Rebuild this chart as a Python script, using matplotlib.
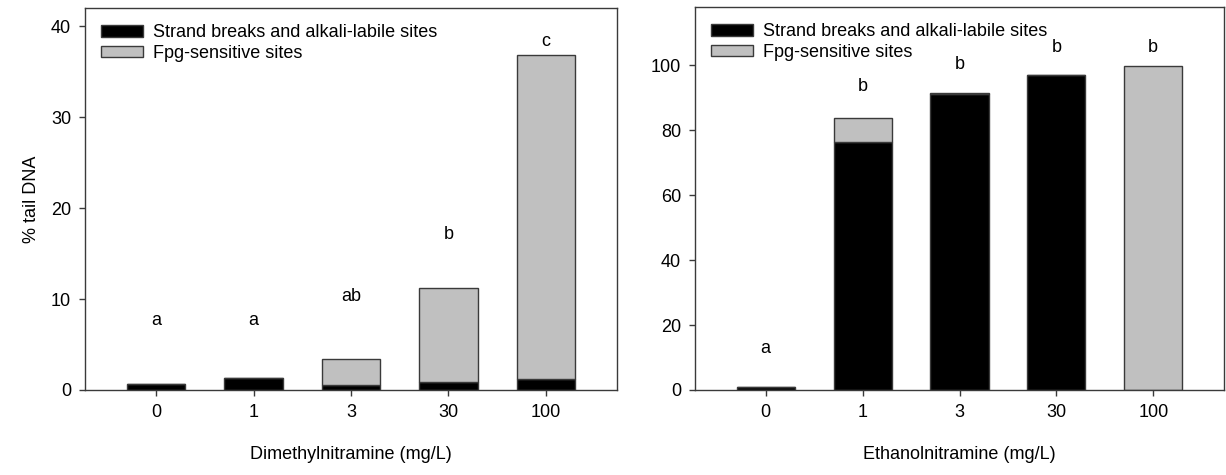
import numpy as np
import matplotlib
matplotlib.use('Agg')
import matplotlib.pyplot as plt

plt.rcParams['font.family'] = ['Liberation Sans', 'DejaVu Sans']

# ----------------------------
# data
# ----------------------------
doses = ['0', '1', '3', '30', '100']

dma_strand = [0.7, 1.3, 0.6, 0.9, 1.2]
dma_total = [0.7, 1.3, 3.4, 11.2, 36.8]
dma_letters = ['a', 'a', 'ab', 'b', 'c']
dma_letter_y = [7.6, 7.6, 10.3, 17.1, 38.3]

ena_strand = [1.0, 76.5, 91.2, 97.0, 0.0]
ena_total = [1.0, 83.8, 91.6, 97.0, 99.8]
ena_letters = ['a', 'b', 'b', 'b', 'b']
ena_letter_y = [12.7, 93.5, 100.3, 105.6, 105.6]

black = '#000000'
grey = '#c0c0c0'
edge = '#3a3a3a'

fig = plt.figure(figsize=(12.26, 4.75), dpi=100)
ax1 = fig.add_axes([85/1226, 1-390/475, 532/1226, 382/475])
ax2 = fig.add_axes([695/1226, 1-390/475, 529/1226, 383/475])


def draw(ax, strand, total, letters, ly, ylim, yticks, xlabel):
    x = np.arange(len(doses))
    strand = np.array(strand)
    total = np.array(total)
    ax.bar(x, strand, width=0.6, color=black, edgecolor=edge, linewidth=1,
           label='Strand breaks and alkali-labile sites')
    ax.bar(x, total - strand, bottom=strand, width=0.6, color=grey,
           edgecolor=edge, linewidth=1, label='Fpg-sensitive sites')
    for xi, t, yy in zip(x, letters, ly):
        ax.text(xi, yy, t, ha='center', va='center', fontsize=13)
    ax.set_xlim(-0.73, 4.73)
    ax.set_ylim(*ylim)
    ax.set_yticks(yticks)
    ax.set_xticks(x)
    ax.set_xticklabels(doses)
    ax.set_xlabel(xlabel, fontsize=13, labelpad=18)
    ax.tick_params(direction='out', length=4, width=1, color=edge,
                   labelsize=13, pad=6)
    for s in ax.spines.values():
        s.set_color(edge)
        s.set_linewidth(1)
    ax.legend(loc='upper left', bbox_to_anchor=(0.0, 1.0), frameon=False,
              fontsize=13, handlelength=2.3, handleheight=0.6,
              handletextpad=0.55, labelspacing=0.2, borderpad=0.5,
              borderaxespad=0.4)


draw(ax1, dma_strand, dma_total, dma_letters, dma_letter_y, (0, 42),
     [0, 10, 20, 30, 40], 'Dimethylnitramine (mg/L)')
ax1.set_ylabel('% tail DNA', fontsize=13, labelpad=8)

draw(ax2, ena_strand, ena_total, ena_letters, ena_letter_y, (0, 118),
     [0, 20, 40, 60, 80, 100], 'Ethanolnitramine (mg/L)')

fig.savefig('out.png', dpi=100)
